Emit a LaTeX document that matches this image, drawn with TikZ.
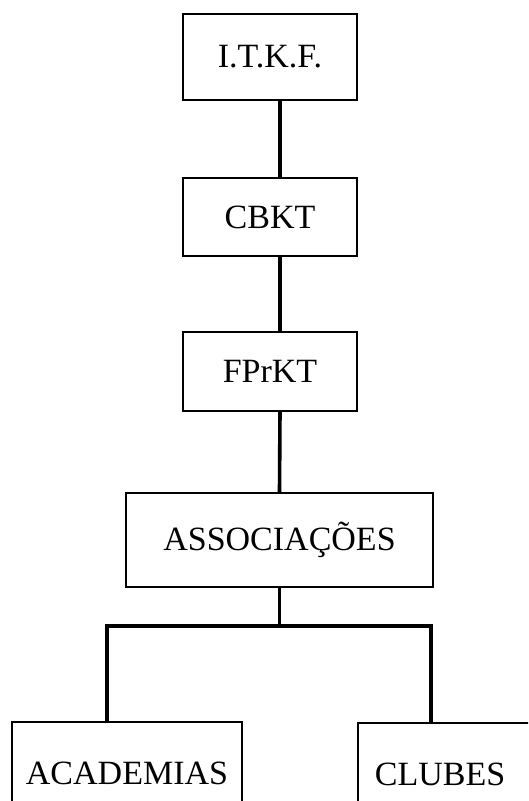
\documentclass[tikz,border=0pt]{standalone}
\usepackage{fontspec}
\setmainfont{Liberation Serif}
\begin{document}
\begin{tikzpicture}[x=1pt,y=-1pt]

        % estilos
        \tikzset{orgbox/.style={rectangle, draw=black, line width=1.8pt, minimum width=174pt, font=\fontsize{34}{37}\selectfont, text centered}}
        \tikzset{link/.style={line width=3.6pt}}

        % area da figura
        \useasboundingbox (0,0) rectangle (528,801);
        \clip (0,0) rectangle (528,801);

        % nos
        \node (itkf) [orgbox, minimum height=86pt] at (270,57) {I.T.K.F.};
        \node (cbkt) [orgbox, minimum height=78pt] at (270,217) {CBKT};
        \node (fprkt) [orgbox, minimum height=79pt] at (270,371.5) {FPrKT};
        \node (assoc) [orgbox, minimum width=307pt, minimum height=94pt] at (279.5,540) {ASSOCIAÇÕES};
        \node (acad) [orgbox, minimum width=230pt, minimum height=102pt] at (127,773) {ACADEMIAS};
        \node (clubes) [orgbox, anchor=north west, minimum height=102pt, text width=200pt, align=left, inner xsep=17pt] at (357,722) {CLUBES};
        \coordinate (bus) at (279.5,626);

        % ligacoes
        \draw [link] ([xshift=10pt]itkf.south) -- ([xshift=10pt]cbkt.north);
        \draw [link] ([xshift=10pt]cbkt.south) -- ([xshift=10pt]fprkt.north);
        \draw [link] ([xshift=10pt]fprkt.south) -- (assoc.north);
        \draw [link] (assoc.south) -- (bus);
        \draw [link] ([xshift=-20pt]acad.north) |- (bus) -| ([xshift=74pt]clubes.north west);

\end{tikzpicture}
\end{document}
